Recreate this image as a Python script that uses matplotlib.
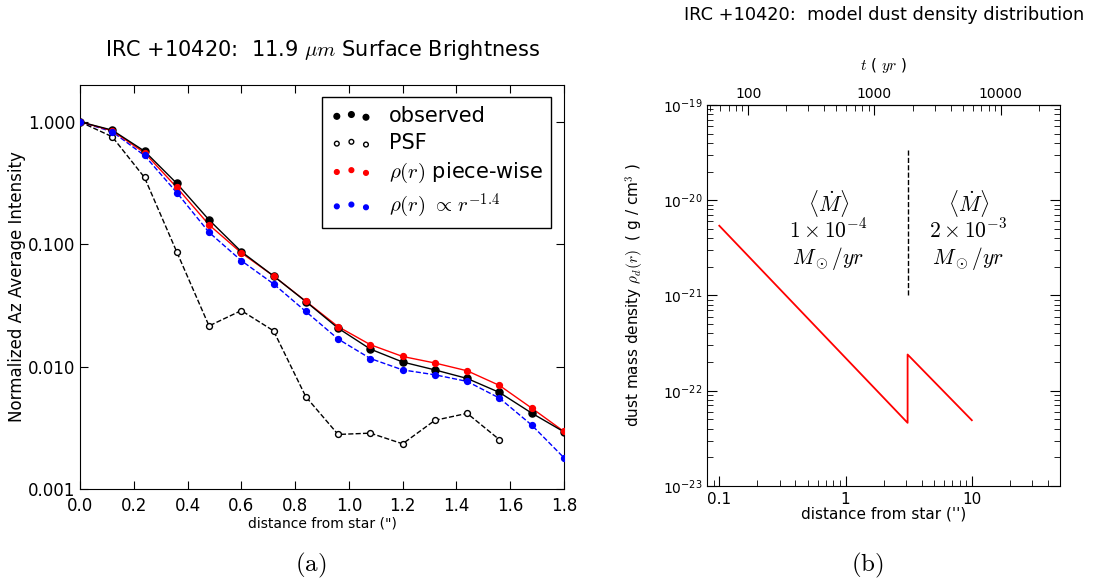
import numpy as np
import matplotlib
matplotlib.use("Agg")
import matplotlib.pyplot as plt
from matplotlib.ticker import FixedLocator, FormatStrFormatter, LogLocator, NullFormatter, FuncFormatter

plt.rcParams['font.family'] = ['DejaVu Sans']
plt.rcParams['mathtext.fontset'] = 'cm'

# ---------------- data: panel (a) ----------------
dist = [0.0, 0.12, 0.24, 0.36, 0.48, 0.60, 0.72, 0.84, 0.96, 1.08, 1.20, 1.32, 1.44, 1.56, 1.68, 1.80]
observed = [1.0, 0.855, 0.576, 0.314, 0.158, 0.087, 0.055, 0.034, 0.0206, 0.0139, 0.0109, 0.0094, 0.0080, 0.00615, 0.00417, 0.00293]
psf_dist = [0.0, 0.12, 0.24, 0.36, 0.48, 0.60, 0.72, 0.84, 0.96, 1.08, 1.20, 1.32, 1.44, 1.56]
psf = [1.0, 0.755, 0.351, 0.0865, 0.0215, 0.0287, 0.0196, 0.00567, 0.00279, 0.00286, 0.00234, 0.00364, 0.00415, 0.00253]
piecewise = [1.0, 0.845, 0.559, 0.291, 0.144, 0.085, 0.055, 0.0342, 0.0212, 0.0151, 0.0121, 0.0107, 0.00924, 0.00702, 0.00458, 0.00295]
powerlaw = [1.0, 0.83, 0.531, 0.264, 0.125, 0.0734, 0.0474, 0.0282, 0.0168, 0.01164, 0.0094, 0.00857, 0.00757, 0.00553, 0.00333, 0.0018]
xticks_a = [0.0, 0.2, 0.4, 0.6, 0.8, 1.0, 1.2, 1.4, 1.6, 1.8]
yticks_a = [0.001, 0.01, 0.1, 1.0]

# ---------------- data: panel (b) ----------------
r_model = [0.1, 3.1, 3.1, 10.0]
rho_model = [5.4e-21, 4.6e-23, 2.4e-22, 4.9e-23]
r_break = 3.1
break_span = [1.0e-21, 3.5e-20]
t_per_arcsec = 590.0
xticks_b = [0.1, 1, 10]
yticks_b = [1e-23, 1e-22, 1e-21, 1e-20, 1e-19]
tticks = [100, 1000, 10000]

fig = plt.figure(figsize=(10.94, 5.82), dpi=100)

# ---------- panel (a) ----------
ax = fig.add_axes([0.0731, 0.1598, 0.4424, 0.6942])
ax.plot(psf_dist, psf, color='black', ls='--', lw=1, zorder=2)
ax.plot(dist, powerlaw, color='blue', ls='--', lw=1, zorder=2)
ax.plot(dist, piecewise, color='red', ls='-', lw=1, zorder=2)
ax.plot(dist, observed, color='black', ls='-', lw=1, zorder=2)
ax.scatter(dist, observed, s=26, color='black', zorder=3, label='observed')
ax.scatter(psf_dist, psf, s=18, facecolor='white', edgecolor='black', lw=1, zorder=3, label='PSF')
ax.scatter(dist, piecewise, s=18, color='red', zorder=3, label=r'$\rho(r)$ piece-wise')
ax.scatter(dist, powerlaw, s=18, color='blue', zorder=3, label=r'$\rho(r)\ \propto\, r^{-1.4}$')
ax.set_yscale('log')
ax.set_xlim(0, 1.8)
ax.set_ylim(0.001, 2.0)
ax.xaxis.set_major_locator(FixedLocator(xticks_a))
ax.xaxis.set_major_formatter(FormatStrFormatter('%.1f'))
ax.yaxis.set_major_locator(FixedLocator(yticks_a))
ax.yaxis.set_major_formatter(FormatStrFormatter('%.3f'))
ax.yaxis.set_minor_locator(FixedLocator([]))
ax.tick_params(which='both', direction='in', top=True, right=True, labelsize=12, length=6)
ax.tick_params(axis='x', pad=6)
ax.set_xlabel('distance from star (")', fontsize=10, labelpad=1)
ax.set_ylabel('Normalized Az Average Intensity', fontsize=12, labelpad=1.5)
fig.text(0.2945, 0.914, r'IRC +10420:  11.9 $\mu m$ Surface Brightness', ha='center', va='center', fontsize=15)
leg = ax.legend(loc='upper right', fontsize=15, scatterpoints=3, fancybox=False,
                edgecolor='black', framealpha=1, borderaxespad=0.6, handletextpad=0.8,
                labelspacing=0.35, borderpad=0.4, markerscale=0.8)
leg.get_frame().set_linewidth(1)

# ---------- panel (b) ----------
bx = fig.add_axes([0.6463, 0.165, 0.3227, 0.6546])
bx.plot(r_model, rho_model, color='red', lw=1.3)
bx.plot([r_break, r_break], break_span, color='black', ls='--', lw=1)
bx.set_xscale('log')
bx.set_yscale('log')
bx.set_xlim(0.08, 50)
bx.set_ylim(1e-23, 1e-19)
bx.xaxis.set_major_locator(FixedLocator(xticks_b))
bx.xaxis.set_major_formatter(FuncFormatter(lambda v, p: '%g' % v))
bx.xaxis.set_minor_formatter(NullFormatter())
bx.yaxis.set_major_locator(FixedLocator(yticks_b))
bx.yaxis.set_major_formatter(FuncFormatter(lambda v, p: r'$\mathdefault{10^{%d}}$' % round(np.log10(v))))
bx.yaxis.set_minor_locator(LogLocator(base=10, subs=np.arange(2, 10), numticks=20))
bx.yaxis.set_minor_formatter(NullFormatter())
bx.tick_params(which='both', direction='in', right=True, top=False)
bx.tick_params(which='major', length=7, labelsize=10)
bx.tick_params(which='minor', length=4)
bx.tick_params(axis='x', labelsize=11, pad=4)
bx.set_xlabel("distance from star ('')", fontsize=11, labelpad=0)
bx.set_ylabel(r"dust mass density $\rho_d(r)$  ( g / cm$^3$ )", fontsize=11, labelpad=12)

top = bx.secondary_xaxis('top', functions=(lambda r: r * t_per_arcsec, lambda t: t / t_per_arcsec))
top.xaxis.set_major_locator(FixedLocator(tticks))
top.xaxis.set_major_formatter(FuncFormatter(lambda v, p: '%d' % v))
top.xaxis.set_minor_formatter(NullFormatter())
top.tick_params(which='both', direction='in', labelsize=10, pad=3)
top.tick_params(which='major', length=7)
top.tick_params(which='minor', length=4)
top.set_xlabel(r'$t$ ( $yr$ )', fontsize=11, labelpad=12)

for xc, lines in [(0.73, [r'$\langle\dot{M}\rangle$', r'$1\times10^{-4}$', r'$M_\odot/yr$']),
                  (9.4, [r'$\langle\dot{M}\rangle$', r'$2\times10^{-3}$', r'$M_\odot/yr$'])]:
    for yv, txt in zip([10**-20.03, 10**-20.31, 10**-20.61], lines):
        bx.text(xc, yv, txt, ha='center', va='center', fontsize=15.5)

fig.text(0.8085, 0.974, 'IRC +10420:  model dust density distribution', ha='center', va='center', fontsize=12.8)

fig.text(0.2843, 0.029, r'$\mathrm{(a)}$', ha='center', va='center', fontsize=18)
fig.text(0.7925, 0.029, r'$\mathrm{(b)}$', ha='center', va='center', fontsize=18)

fig.savefig('out.png', dpi=100)
